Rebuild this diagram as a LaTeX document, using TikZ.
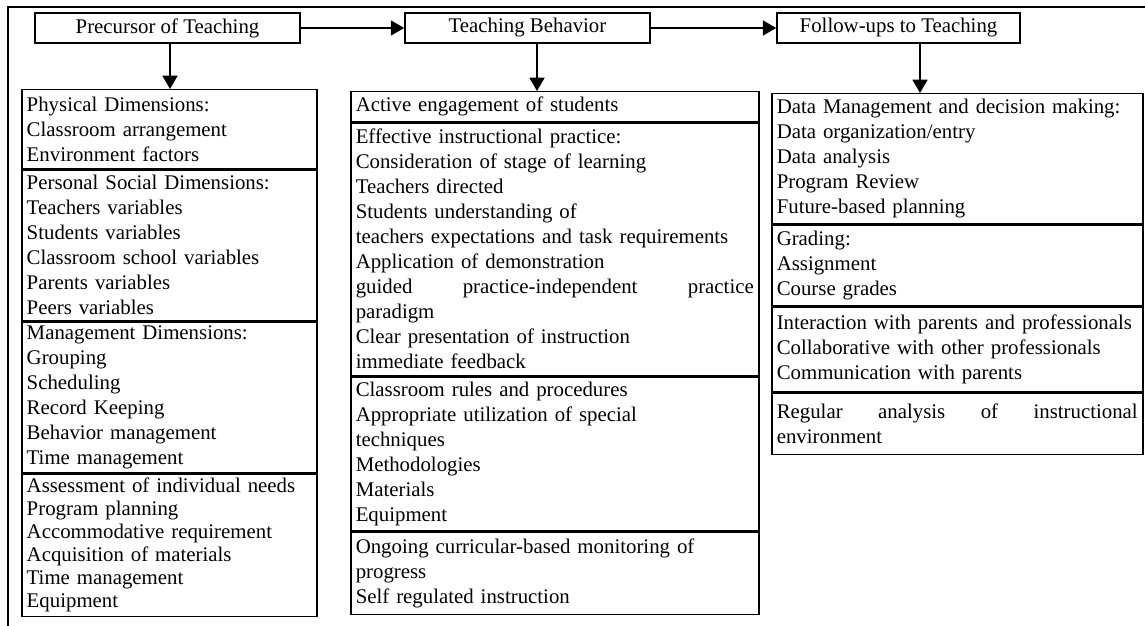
\documentclass[tikz,border=0pt]{standalone}
\usepackage{fontspec}
\setmainfont{Liberation Serif}
\usetikzlibrary{arrows.meta,positioning}
\tikzset{%
	head/.style  = {draw, rectangle, line width=1pt, minimum height=18pt, inner sep=0pt, text centered},
	part/.style  = {draw, rectangle, line width=0.9pt, anchor=north west, align=left, inner xsep=3pt, inner ysep=0pt},
	col1/.style  = {part, text width=171pt},
	col2/.style  = {part, text width=238.8pt},
	col3/.style  = {part, text width=216.6pt},
	arrow/.style = {line width=1pt, -{Triangle[length=8pt,width=9pt]}},
}
\newcommand{\spread}[1]{\leavevmode\hbox to\hsize{#1}}
\hyphenpenalty=10000

\begin{document}
\begin{tikzpicture}[x=0.6pt, y=-0.6pt, font=\fontsize{12.5}{15}\selectfont]
		\clip (0,0) rectangle (1145,626);
		\draw[line width=1pt] (8,640) |- (1160,7);
		
		% top row
		\node[head, minimum width=159pt] (pre) at (167.5,28) {Precursor of Teaching};
		\node[head, minimum width=147pt] (beh) at (527.5,28) {Teaching Behavior};
		\node[head, minimum width=145.8pt] (fol) at (898.5,28) {Follow-ups to Teaching};
		\draw[arrow] (pre.east) -- (beh.west);
		\draw[arrow] (beh.east) -- (fol.west);
		
		% precursor column
		\node[col1, minimum height=47.4pt] (pre1) at (21,89) {Physical Dimensions:\\Classroom arrangement\\Environment factors};
		\node[col1, minimum height=90pt] (pre2) at (pre1.south west) {Personal Social Dimensions:\\Teachers variables\\Students variables\\Classroom school variables\\Parents variables\\Peers variables};
		\node[col1, minimum height=90.6pt] (pre3) at (pre2.south west) {Management Dimensions:\\Grouping\\Scheduling\\Record Keeping\\Behavior management\\Time management};
		\node[col1, minimum height=85.2pt, font=\fontsize{12.5}{13.8}\selectfont] (pre4) at (pre3.south west) {Assessment of individual needs\\Program planning\\Accommodative requirement\\Acquisition of materials\\Time management\\Equipment};
		
		% behavior column
		\node[col2, minimum height=18pt] (beh1) at (350,91) {Active engagement of students};
		\node[col2, minimum height=151.2pt] (beh2) at (beh1.south west) {Effective instructional practice:\\Consideration of stage of learning\\Teachers directed\\Students understanding of\\teachers expectations and task requirements\\Application of demonstration\\\spread{guided\hfill practice-independent\hfill practice}\\paradigm\\Clear presentation of instruction\\immediate feedback};
		\node[col2, minimum height=92.4pt] (beh3) at (beh2.south west) {Classroom rules and procedures\\Appropriate utilization of special\\techniques\\Methodologies\\Materials\\Equipment};
		\node[col2, minimum height=49.2pt] (beh4) at (beh3.south west) {Ongoing curricular-based monitoring of\\progress\\Self regulated instruction};
		
		% follow-up column
		\node[col3, minimum height=78pt] (fol1) at (771,93) {Data Management and decision making:\\Data organization/entry\\Data analysis\\Program Review\\Future-based planning};
		\node[col3, minimum height=48pt] (fol2) at (fol1.south west) {Grading:\\Assignment\\Course grades};
		\node[col3, minimum height=51pt] (fol3) at (fol2.south west) {Interaction with parents and professionals\\Collaborative with other professionals\\Communication with parents};
		\node[col3, minimum height=36.6pt] (fol4) at (fol3.south west) {\spread{Regular\hfill analysis\hfill of\hfill instructional}\\environment};
		
		% down arrows
		\coordinate (d1) at (170,0);
		\coordinate (d2) at (537,0);
		\coordinate (d3) at (920,0);
		\draw[arrow] (pre.south -| d1) -- (pre1.north -| d1);
		\draw[arrow] (beh.south -| d2) -- (beh1.north -| d2);
		\draw[arrow] (fol.south -| d3) -- (fol1.north -| d3);
	\end{tikzpicture}
\end{document}
